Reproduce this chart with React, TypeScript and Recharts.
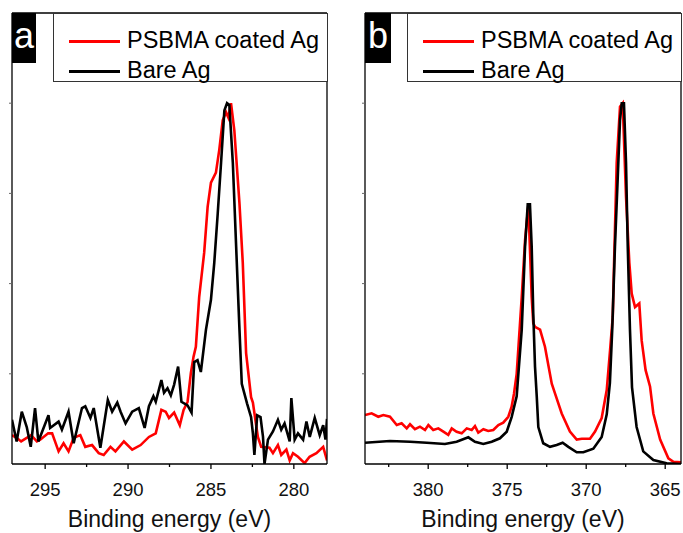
import { LineChart, Line, XAxis, YAxis, Legend } from "recharts";

const FONT = '"Liberation Sans", Arial, sans-serif';

// panel a : C 1s region, [binding energy (eV), normalised intensity]
const coatedA = [
  [297.0, 0.32], [296.72, 0.29], [296.45, 0.25], [295.85, 0.32], [295.5, 0.25], [295.3, 0.27],
  [294.82, 0.34], [294.58, 0.34], [294.19, 0.14], [293.89, 0.23], [293.59, 0.14], [293.28, 0.29],
  [292.88, 0.32], [292.58, 0.19], [292.17, 0.21], [291.77, 0.12], [291.47, 0.1], [291.06, 0.19],
  [290.76, 0.14], [290.25, 0.25], [289.75, 0.16], [289.24, 0.21], [288.74, 0.3], [288.33, 0.34],
  [287.99, 0.6], [287.73, 0.58], [287.53, 0.51], [287.22, 0.57], [286.88, 0.43], [286.65, 0.6],
  [286.41, 0.69], [286.21, 1.01], [286.05, 1.19], [285.91, 1.3], [285.71, 1.85], [285.41, 2.34],
  [285.2, 2.85], [285.0, 3.12], [284.7, 3.23], [284.5, 3.48], [284.29, 3.81], [284.09, 3.9],
  [283.95, 3.84], [283.79, 4.0], [283.59, 3.7], [283.28, 2.89], [283.08, 2.23], [282.88, 1.23],
  [282.58, 0.74], [282.47, 0.68], [282.17, 0.3], [281.97, 0.19], [281.47, 0.18], [281.26, 0.12],
  [280.96, 0.21], [280.76, 0.1], [280.45, 0.16], [280.25, 0.04], [280.05, 0.12], [279.75, 0.08],
  [279.35, 0.01], [279.05, 0.08], [278.64, 0.12], [278.23, 0.19], [278.0, 0.04],
];

const bareA = [
  [297.0, 0.49], [296.72, 0.25], [296.41, 0.58], [296.11, 0.41], [295.87, 0.19], [295.61, 0.62],
  [295.41, 0.25], [294.8, 0.54], [294.7, 0.4], [294.19, 0.47], [293.99, 0.38], [293.59, 0.58],
  [293.28, 0.23], [292.78, 0.62], [292.58, 0.64], [292.27, 0.51], [292.07, 0.62], [291.67, 0.18],
  [291.22, 0.71], [290.96, 0.58], [290.65, 0.68], [290.45, 0.58], [290.15, 0.45], [289.75, 0.58],
  [289.35, 0.62], [289.0, 0.4], [288.74, 0.64], [288.47, 0.75], [288.33, 0.69], [287.99, 0.93],
  [287.83, 0.79], [287.62, 0.84], [287.42, 0.76], [287.22, 0.88], [286.98, 1.08], [286.78, 0.69],
  [286.41, 0.65], [286.17, 0.57], [286.01, 1.13], [285.81, 1.15], [285.61, 1.02], [285.3, 1.49],
  [285.0, 1.82], [284.8, 2.23], [284.59, 2.78], [284.39, 3.34], [284.19, 3.92], [284.03, 4.0],
  [283.89, 3.98], [283.68, 3.34], [283.48, 2.41], [283.28, 1.49], [283.14, 0.89], [282.82, 0.67],
  [282.58, 0.52], [282.47, 0.34], [282.38, 0.1], [282.21, 0.54], [282.01, 0.52], [281.86, 0.3],
  [281.77, 0.0], [281.56, 0.27], [281.26, 0.36], [280.96, 0.49], [280.76, 0.38], [280.56, 0.45],
  [280.25, 0.25], [280.15, 0.73], [279.95, 0.27], [279.75, 0.34], [279.44, 0.27], [279.24, 0.47],
  [279.04, 0.3], [278.74, 0.51], [278.44, 0.32], [278.23, 0.43], [278.09, 0.27], [278.0, 0.5],
];

// panel b : Ag 3d region
const coatedB = [
  [384.0, 0.543], [383.58, 0.562], [383.16, 0.524], [382.84, 0.543], [382.42, 0.524], [381.99, 0.432],
  [381.68, 0.451], [381.36, 0.395], [381.15, 0.44], [380.84, 0.385], [380.52, 0.414], [380.2, 0.377],
  [379.99, 0.432], [379.68, 0.377], [379.36, 0.395], [379.04, 0.358], [378.73, 0.322], [378.51, 0.395],
  [378.2, 0.358], [377.88, 0.34], [377.56, 0.395], [377.25, 0.377], [377.04, 0.42], [376.83, 0.347],
  [376.51, 0.385], [376.2, 0.366], [375.88, 0.377], [375.56, 0.432], [375.25, 0.458], [374.93, 0.524],
  [374.72, 0.635], [374.57, 0.78], [374.4, 1.0], [374.08, 1.85], [373.87, 2.48], [373.66, 2.87],
  [373.45, 1.85], [373.35, 1.56], [373.24, 1.52], [372.92, 1.49], [372.61, 1.3], [372.18, 0.89],
  [371.97, 0.78], [371.55, 0.56], [371.03, 0.36], [370.6, 0.27], [370.28, 0.28], [369.76, 0.28],
  [369.44, 0.36], [369.02, 0.51], [368.7, 0.82], [368.49, 1.26], [368.32, 1.63], [368.24, 2.2],
  [368.07, 3.34], [367.86, 3.96], [367.69, 4.0], [367.48, 2.96], [367.27, 2.23], [367.12, 1.89],
  [366.91, 1.74], [366.64, 1.78], [366.49, 1.37], [366.24, 1.04], [365.96, 0.86], [365.75, 0.56],
  [365.32, 0.27], [364.8, 0.063], [364.48, 0.025], [364.0, 0.019],
];

const bareB = [
  [384.0, 0.236], [382.42, 0.255], [381.15, 0.247], [380.09, 0.236], [378.94, 0.222], [378.2, 0.247],
  [377.46, 0.296], [377.04, 0.247], [376.51, 0.222], [375.98, 0.247], [375.46, 0.285], [375.03, 0.358],
  [374.72, 0.52], [374.4, 0.75], [374.08, 1.49], [373.87, 2.41], [373.7, 2.88], [373.56, 2.88],
  [373.45, 2.41], [373.35, 1.67], [373.24, 1.08], [373.13, 0.75], [373.03, 0.41], [372.72, 0.23],
  [372.29, 0.19], [371.87, 0.21], [371.49, 0.236], [371.13, 0.19], [370.6, 0.13], [370.18, 0.13],
  [369.55, 0.17], [369.02, 0.3], [368.7, 0.55], [368.5, 0.9], [368.35, 1.5], [368.18, 2.41],
  [368.01, 3.15], [367.86, 3.81], [367.75, 4.0], [367.61, 4.0], [367.48, 3.34], [367.37, 2.41],
  [367.23, 1.49], [367.1, 0.85], [366.81, 0.41], [366.39, 0.14], [365.75, 0.044], [364.91, 0.008],
  [364.0, 0.0],
];

const ticksA = [295, 292.5, 290, 287.5, 285, 282.5, 280];
const ticksB = [382.5, 380, 377.5, 375, 372.5, 370, 367.5, 365];
const intensityTicks = [1, 2, 3, 4];

const seriesNames = ["PSBMA coated Ag", "Bare Ag"];
const seriesColors = ["#ff0000", "#000000"];

const toRows = (pts: number[][]) => pts.map(([e, v]) => ({ e, v }));

const EnergyTick = (props: any) => {
  const { x, y, payload } = props;
  const major = payload.value % 5 === 0;
  return (
    <g>
      <line x1={x} x2={x} y1={y} y2={y + (major ? 5 : 3)} stroke="#000" strokeWidth={1.3} />
      {major && (
        <text x={x} y={y + 32} textAnchor="middle" fontSize={18.5} fontFamily={FONT} fill="#111">
          {payload.value}
        </text>
      )}
    </g>
  );
};

const NoTick = () => <g />;

const LegendBox = ({ width }: { width: number }) => (
  <div
    style={{
      position: "relative",
      width,
      height: 69,
      boxSizing: "border-box",
      border: "1px solid #333",
      background: "#fff",
      fontFamily: FONT,
      fontSize: 23.5,
      color: "#000",
    }}
  >
    {seriesNames.map((name, i) => (
      <div key={name} style={{ position: "absolute", left: 0, top: 13 + i * 30, height: 26, width }}>
        <div
          style={{
            position: "absolute",
            left: 15,
            top: 13,
            width: 51,
            height: 3,
            background: seriesColors[i],
          }}
        />
        <span style={{ position: "absolute", left: 73, top: 0, lineHeight: "26px", whiteSpace: "nowrap" }}>
          {name}
        </span>
      </div>
    ))}
  </div>
);

type PanelProps = {
  width: number;
  left: number;
  right: number;
  domain: [number, number];
  ticks: number[];
  coated: number[][];
  bare: number[][];
  letter: string;
  letterWidth: number;
  legendLeft: number;
  legendWidth: number;
};

const Panel = (p: PanelProps) => {
  const axisLine = { stroke: "#000", strokeWidth: 1.3 };
  return (
    <div style={{ position: "relative", width: p.width, height: 533 }}>
      <LineChart
        width={p.width}
        height={533}
        margin={{ top: 12, left: p.left - 1, right: p.right - 1, bottom: 68 }}
      >
        <XAxis
          type="number"
          dataKey="e"
          domain={p.domain}
          reversed
          allowDataOverflow
          ticks={p.ticks}
          interval={0}
          height={1}
          tickSize={0}
          tickMargin={0}
          tickLine={false}
          axisLine={axisLine}
          tick={<EnergyTick />}
          label={{
            value: "Binding energy (eV)",
            position: "bottom",
            offset: 46,
            fontSize: 23,
            fontFamily: FONT,
            fill: "#111",
          }}
        />
        <XAxis
          xAxisId="top"
          orientation="top"
          type="number"
          domain={p.domain}
          reversed
          height={1}
          tick={false}
          tickLine={false}
          axisLine={axisLine}
        />
        <YAxis
          type="number"
          domain={[0, 5]}
          allowDataOverflow
          ticks={intensityTicks}
          width={1}
          tickSize={3}
          tick={<NoTick />}
          tickLine={{ stroke: "#666" }}
          axisLine={axisLine}
        />
        <YAxis
          yAxisId="right"
          orientation="right"
          type="number"
          domain={[0, 5]}
          ticks={intensityTicks}
          width={1}
          tickSize={3}
          tick={<NoTick />}
          tickLine={{ stroke: "#666" }}
          axisLine={axisLine}
        />
        <Legend
          layout="horizontal"
          verticalAlign="middle"
          align="center"
          wrapperStyle={{ left: p.legendLeft, top: 13, width: p.legendWidth, height: 69 }}
          content={() => <LegendBox width={p.legendWidth} />}
        />
        <Line
          data={toRows(p.coated)}
          dataKey="v"
          name={seriesNames[0]}
          stroke={seriesColors[0]}
          strokeWidth={2.6}
          dot={false}
          type="linear"
          isAnimationActive={false}
        />
        <Line
          data={toRows(p.bare)}
          dataKey="v"
          name={seriesNames[1]}
          stroke={seriesColors[1]}
          strokeWidth={2.6}
          dot={false}
          type="linear"
          isAnimationActive={false}
        />
      </LineChart>
      <div
        style={{
          position: "absolute",
          left: p.left,
          top: 13,
          width: p.letterWidth,
          height: 50,
          background: "#000",
          color: "#fff",
          fontFamily: FONT,
          fontSize: 36,
          lineHeight: "46px",
          textAlign: "center",
        }}
      >
        {p.letter}
      </div>
    </div>
  );
};

export default function App() {
  return (
    <div style={{ position: "absolute", left: 0, top: 0, width: 683, height: 533, background: "#fff" }}>
      <div style={{ position: "absolute", left: 0, top: 0 }}>
        <Panel
          width={340}
          left={12}
          right={13}
          domain={[278, 297]}
          ticks={ticksA}
          coated={coatedA}
          bare={bareA}
          letter="a"
          letterWidth={24}
          legendLeft={53}
          legendWidth={275}
        />
      </div>
      <div style={{ position: "absolute", left: 340, top: 0 }}>
        <Panel
          width={343}
          left={25}
          right={2}
          domain={[364, 384]}
          ticks={ticksB}
          coated={coatedB}
          bare={bareB}
          letter="b"
          letterWidth={26}
          legendLeft={67}
          legendWidth={275}
        />
      </div>
    </div>
  );
}
